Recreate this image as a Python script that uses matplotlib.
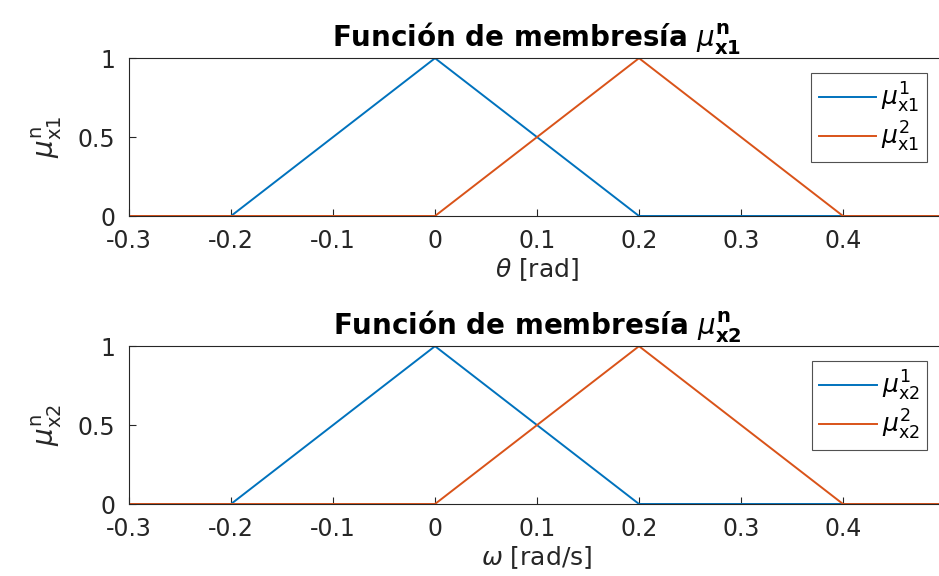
import numpy as np
import matplotlib.pyplot as plt

plt.rcParams['font.family'] = ['DejaVu Sans']
plt.rcParams['mathtext.fontset'] = 'dejavusans'

# breakpoints of the triangular membership functions
x_pts = [-0.3, -0.2, 0.0, 0.2, 0.4, 0.5]
mu1 = [0, 0, 1, 0, 0, 0]
mu2 = [0, 0, 0, 1, 0, 0]

xticks = [-0.3, -0.2, -0.1, 0, 0.1, 0.2, 0.3, 0.4]
xtick_labels = ['-0.3', '-0.2', '-0.1', '0', '0.1', '0.2', '0.3', '0.4']
yticks = [0, 0.5, 1]
ytick_labels = ['0', '0.5', '1']

panels = [
    ('x1', r'$\theta$ [rad]'),
    ('x2', r'$\omega$ [rad/s]'),
]

blue = '#0072BD'
orange = '#D95319'
txt = '#262626'

fig = plt.figure(figsize=(9.39, 5.76), dpi=100)
positions = [[0.1374, 0.625, 0.869, 0.274], [0.1374, 0.125, 0.869, 0.274]]

for pos, (sub, xlab) in zip(positions, panels):
    ax = fig.add_axes(pos)
    ax.plot(x_pts, mu1, color=blue, lw=1.4, label=r'$\mu^{1}_{\mathrm{%s}}$' % sub)
    ax.plot(x_pts, mu2, color=orange, lw=1.4, label=r'$\mu^{2}_{\mathrm{%s}}$' % sub)
    ax.set_xlim(-0.3, 0.5)
    ax.set_ylim(0, 1)
    ax.set_xticks(xticks)
    ax.set_xticklabels(xtick_labels)
    ax.set_yticks(yticks)
    ax.set_yticklabels(ytick_labels)
    ax.tick_params(direction='in', length=5, labelsize=17, colors=txt)
    ax.tick_params(axis='x', pad=9)
    ax.tick_params(axis='y', pad=10)
    for s in ax.spines.values():
        s.set_color(txt)
        s.set_linewidth(0.8)
    ax.set_xlabel(xlab, fontsize=18, color=txt, labelpad=3)
    ax.set_ylabel(r'$\mu^{\mathrm{n}}_{\mathrm{%s}}$' % sub, fontsize=20, color=txt, labelpad=10)
    ax.set_title(r'Función de membresía $\mu^{\mathbf{n}}_{\mathbf{%s}}$' % sub,
                 fontsize=20, fontweight='bold', color='black', pad=9)
    leg = ax.legend(loc='upper right', bbox_to_anchor=(0.978, 0.905), fontsize=18,
                    fancybox=False, edgecolor=txt, handlelength=2.3,
                    borderaxespad=0, borderpad=0.3, labelspacing=0.2,
                    handletextpad=0.2)
    leg.get_frame().set_linewidth(0.8)

fig.savefig('out.png', dpi=100)
